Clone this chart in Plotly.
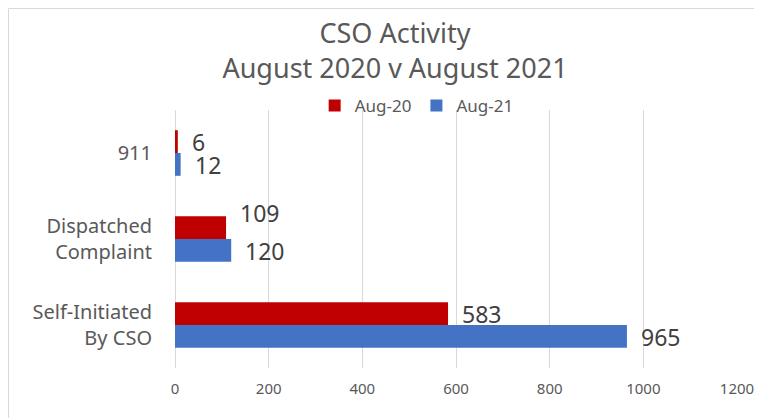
import plotly.graph_objects as go

categories = ["911", "Dispatched<br>Complaint", "Self-Initiated<br>By CSO"]
aug20 = [6, 109, 583]
aug21 = [12, 120, 965]
series_names = ["Aug-20", "Aug-21"]
colors = ["#C00000", "#4472C4"]
xticks = [0, 200, 400, 600, 800, 1000, 1200]

# page has an 8px body margin, so the figure is drawn at (8, 8)
W, H = 754, 410
L, R, T, B = 167, 25, 102, 50
PW, PH = W - L - R, H - T - B
BAR_OFFSET = 11.5  # px, half a bar thickness (group offset)
# extra vertical nudge for labels that would collide (series index, category index) -> px
label_nudge = {(0, 1): 15}

fig = go.Figure()
for name, vals, col in zip(series_names, [aug20, aug21], colors):
    fig.add_trace(go.Bar(
        y=categories, x=vals, name=name, orientation="h",
        marker=dict(color=col, line=dict(width=0)),
    ))

annotations = []
for si, vals in enumerate([aug20, aug21]):
    base = BAR_OFFSET if si == 0 else -BAR_OFFSET
    for ci, v in enumerate(vals):
        annotations.append(dict(
            x=v, y=ci, xref="x", yref="y", text=str(v), showarrow=False,
            xanchor="left", yanchor="middle", xshift=12,
            yshift=base + label_nudge.get((si, ci), 0),
            font=dict(size=23, color="#404040", family="Noto Sans"),
        ))

fig.update_layout(
    width=W, height=H,
    margin=dict(l=L, r=R, t=T, b=B, autoexpand=False),
    paper_bgcolor="white", plot_bgcolor="white",
    font=dict(family="Noto Sans", color="#595959"),
    title=dict(
        text="CSO Activity<br>August 2020 v August 2021",
        x=387 / W, xanchor="center", xref="container",
        y=1 - 35 / H, yanchor="middle", yref="container",
        font=dict(size=27, color="#595959", family="Noto Sans"),
    ),
    barmode="group", bargap=0.47, bargroupgap=0,
    showlegend=True,
    legend=dict(
        orientation="h", x=0.43, xanchor="center", y=1 + 4 / PH, yanchor="middle",
        font=dict(size=17, color="#595959"), itemwidth=30,
        bgcolor="rgba(0,0,0,0)",
    ),
    xaxis=dict(
        range=[0, 1200], tickvals=xticks, ticktext=[str(t) for t in xticks],
        showgrid=True, gridcolor="#D9D9D9", gridwidth=1,
        zeroline=True, zerolinecolor="#D9D9D9", zerolinewidth=1,
        showline=False, ticks="", tickfont=dict(size=15, color="#595959"),
        ticklabelstandoff=10,
    ),
    yaxis=dict(
        type="category", categoryorder="array", categoryarray=categories,
        range=[len(categories) - 0.5, -0.5], autorange=False,
        showgrid=False, showline=False, ticks="",
        tickfont=dict(size=20, color="#595959"), ticklabelstandoff=22,
    ),
    annotations=annotations,
    shapes=[dict(
        type="rect", xref="paper", yref="paper",
        x0=(0.5 - L) / PW, x1=(W + 20 - L) / PW,
        y0=-(B + 20) / PH, y1=1 + (T - 0.5) / PH,
        line=dict(color="#D9D9D9", width=1), layer="below",
    )],
)

fig.write_html("out.html")
